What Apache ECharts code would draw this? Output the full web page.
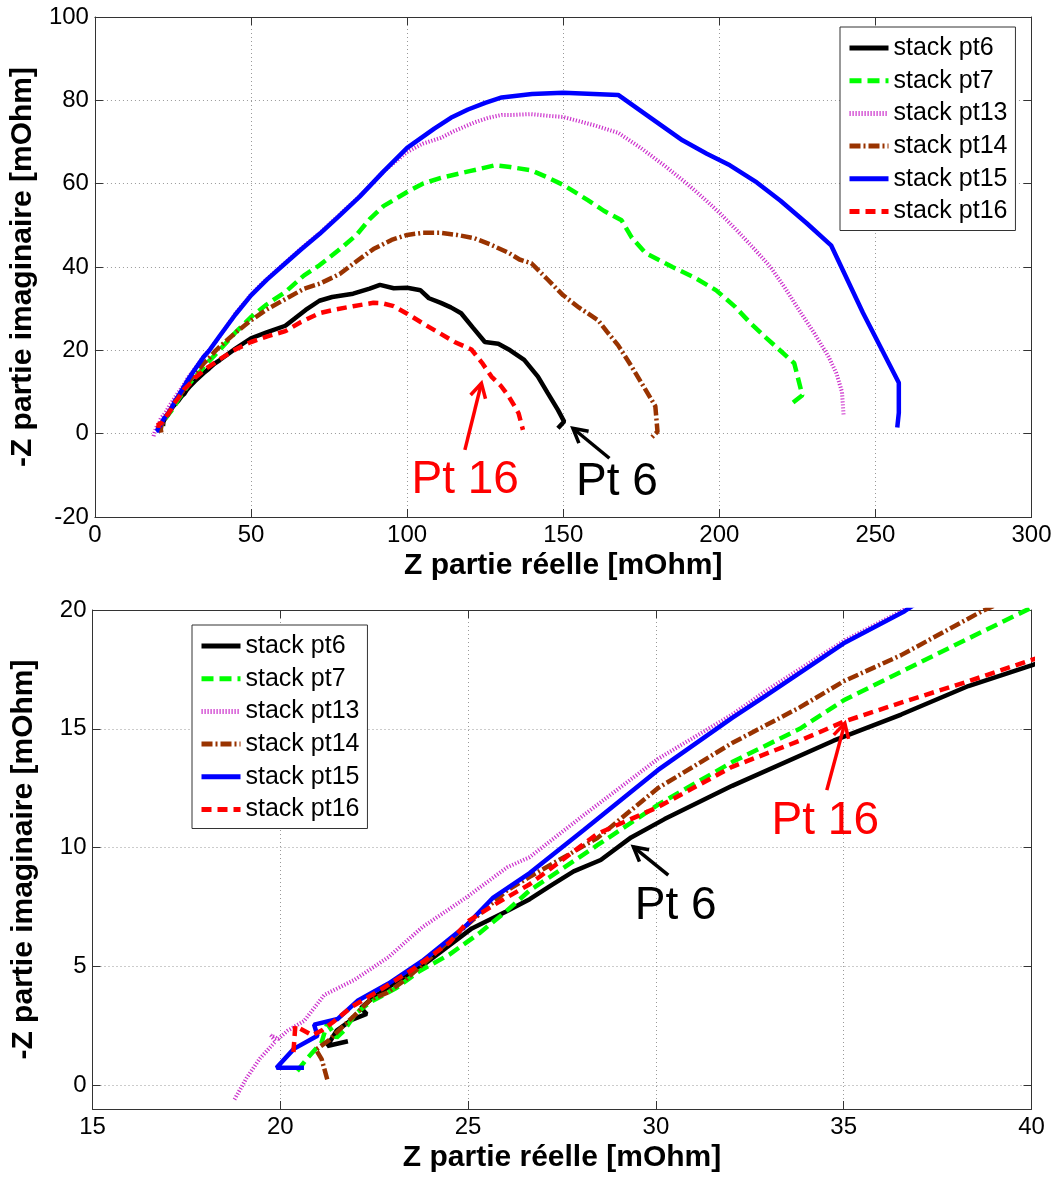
<!DOCTYPE html>
<html>
<head>
<meta charset="utf-8">
<script src="https://cdn.jsdelivr.net/npm/echarts@6/dist/echarts.min.js"></script>
<style>
html,body{margin:0;padding:0;background:#fff;}
#main{width:1059px;height:1177px;}
</style>
</head>
<body>
<div id="main"></div>
<script>
// ---------- data ----------
const seriesNames = ['stack pt6','stack pt7','stack pt13','stack pt14','stack pt15','stack pt16'];

const pt6 = [[21.8,1.85],[21.25,1.65],[21.5,2.3],[21.9,2.75],[22.3,3.0],[22.15,3.25],[22.4,3.6],[22.9,4.15],[23.8,5.05],[25.1,6.6],[26.0,7.3],[26.64,7.83],[27.2,8.4],[27.81,9.0],[28.53,9.48],[29.34,10.43],[30.23,11.2],[32.03,12.6],[34.73,14.5],[36.53,15.6],[38.32,16.8],[40,17.67],[45,20.4],[50,22.9],[55,24.3],[61,25.9],[67.5,29.7],[71.9,31.9],[76,32.8],[82.7,33.6],[88,34.8],[91.3,35.7],[95.7,34.9],[100,35],[104.3,34.4],[107,32.5],[110.8,31.4],[114,30.3],[117.3,28.9],[121,25.5],[124.9,22],[129.2,21.6],[133,20],[137.5,17.7],[141.9,13.7],[145,9.8],[148.3,5.7],[150.3,2.9],[148.3,1.3]];

const pt7 = [[20.45,0.6],[20.7,1.1],[21.1,1.8],[21.25,2.6],[21.5,2.0],[21.7,2.3],[22.0,3.0],[22.4,3.5],[23.1,4.1],[23.7,4.8],[24.5,5.5],[25.3,6.4],[26.0,7.3],[26.64,8.2],[28.44,10.1],[30.05,11.8],[32.03,13.6],[33.83,15.0],[35,16.2],[36.53,17.4],[38.32,18.8],[40,20.1],[45,24.3],[50,28],[55,31],[61,34],[67,38],[71.9,40.4],[78,44],[83.8,47.7],[88,51.5],[92.4,54.6],[100,58],[105,60],[110.8,61.4],[120,63],[128.1,64.4],[133,64],[139.8,63.2],[145,61.5],[150,59.7],[158,56],[163,53.5],[168.7,51.2],[172,47],[176.3,43.4],[185,40],[192,37.5],[199,34.4],[205,30.5],[210,26.5],[215,23],[219.6,19.9],[224,16.9],[226.6,9.2],[222.8,7.0]];

const pt13 = [[18.78,-0.6],[19.1,0.3],[19.46,1.13],[19.87,1.84],[19.75,2.1],[19.95,1.95],[20.2,2.3],[20.63,2.7],[21.17,3.8],[21.98,4.44],[22.88,5.39],[23.78,6.65],[24.95,7.9],[26.04,9.17],[26.64,9.6],[28.08,11.37],[30.05,13.73],[32.03,15.6],[32.93,16.6],[35,18.7],[36.53,19.95],[40,23.4],[45,28.8],[50,33.4],[55,37.1],[61,41.1],[66,44.4],[71.9,48.1],[78,52.3],[84.8,57],[88,59.5],[92.4,62.9],[100,67.6],[105,69.6],[110.8,71],[115,72.6],[121.6,74.7],[126,75.8],[130.3,76.5],[134,76.5],[139.5,76.7],[145,76.3],[150,76],[160,74],[167.6,72.2],[175,68.5],[183,64],[189.3,60.2],[195,56.5],[200.2,52.9],[206,48.5],[211,44.5],[216.4,40],[221,35],[226.2,28.9],[230.5,24],[234.9,18.6],[237.5,14.5],[239.3,10],[239.8,4.5]];

const pt14 = [[21.25,0.25],[21.1,1.1],[20.95,1.5],[21.3,1.9],[21.55,2.3],[21.95,2.9],[22.4,3.6],[22.85,3.9],[23.33,4.44],[24.23,5.7],[25.13,6.96],[26.04,8.2],[26.64,8.77],[28.44,10.4],[30.05,12.5],[32.03,14.4],[33.83,15.9],[35,17.0],[36.53,18.1],[38.68,19.95],[40,20.9],[45,24.2],[50,27.2],[55,29.8],[61,32.3],[67,34.8],[72,36],[78.4,38.3],[84,41.5],[89.2,44.3],[95,46.5],[100,47.7],[105,48.2],[110.8,48.2],[116,47.7],[121.6,46.9],[127,45.3],[132.5,43.4],[136,41.8],[139.8,40.9],[145,37],[150,33.2],[155,30.3],[161.2,27.2],[164,24.5],[167.6,21.2],[172,16],[176,11],[179.5,6.6],[180.2,0.5],[178.1,-1.1]];

const pt15 = [[20.63,0.74],[19.9,0.74],[20.36,1.53],[20.99,2.08],[20.9,2.55],[21.53,2.79],[22.07,3.57],[22.88,4.28],[23.78,5.23],[24.95,6.72],[25.67,7.9],[26.64,8.93],[28.08,10.74],[30.05,13.26],[32.03,15.46],[32.93,16.4],[35,18.6],[36.62,19.95],[40,23.5],[45,28.6],[50,33.2],[55,36.9],[61,40.9],[66,44.2],[71.9,47.9],[78,52.1],[84.8,56.9],[88,59.4],[92.4,62.9],[100,68.6],[108.7,73.2],[114,75.8],[119.5,77.8],[125,79.4],[130.3,80.7],[140,81.5],[150,81.8],[167.6,81.3],[178,75.8],[188.2,70.4],[196,67.2],[203.4,64.4],[212,60.3],[219.6,55.9],[228,50.5],[235.8,45.2],[246,29],[257.5,12.2],[257.5,5],[257,1.5]];

const pt16 = [[20.35,1.4],[20.4,2.5],[20.85,2.1],[21.1,2.3],[21.4,2.65],[21.9,3.3],[22.6,3.95],[23.5,4.85],[24.5,6.0],[25.0,6.9],[25.7,7.6],[26.64,8.46],[28.44,10.58],[30.05,11.7],[32.03,13.4],[33.83,14.5],[35,15.3],[36.53,16.1],[38.32,17.0],[40,17.9],[45,20.2],[50,22],[55,23.3],[61,24.6],[66,26.8],[71.9,28.9],[77,29.8],[82.7,30.6],[89.2,31.4],[92,31.3],[95.7,30.6],[100,28.8],[105.4,26.3],[110,24.3],[115.2,22],[120.6,20.2],[124,17],[127,13.7],[130,11.5],[132.5,9],[134.5,6.5],[135.7,4.9],[137.1,0.9]];

// axis ranges / ticks
const topX = {min:0, max:300, interval:50};
const topY = {min:-20, max:100, interval:20};
const botX = {min:15, max:40, interval:5};
const botY = {min:-1, max:20, splitNumber:4};

const xTitle = 'Z partie réelle [mOhm]';
const yTitle = '-Z partie imaginaire [mOhm]';

// annotations: [grid, text, color, text anchor (left, baseline), arrow tail, arrow tip]
const annotations = [
  [0,'Pt 16','#ff0000',[101.4,-15.1],[118.5,-3.9],[123.8,12.1]],
  [0,'Pt 6','#000000',[154.1,-15.5],[164.8,-5.9],[153.1,1.3]],
  [1,'Pt 16','#ff0000',[33.08,10.43],[34.55,12.42],[35.03,15.23]],
  [1,'Pt 6','#000000',[29.44,6.88],[30.33,8.84],[29.4,10.03]]
];

// ---------- styles ----------
const allData = [pt6, pt7, pt13, pt14, pt15, pt16];
const styles = [
  {color:'#000000', width:4.5, type:'solid'},
  {color:'#00ff00', width:4.5, type:[12,6]},
  {color:'#cc33cc', width:4, type:[1.2,1.8]},
  {color:'#993300', width:4.5, type:[11,3,2,3]},
  {color:'#0000ff', width:4.5, type:'solid'},
  {color:'#ff0000', width:4.5, type:[10,6]}
];

const FONT = 'Liberation Sans';
const gridLineStyle = {color:'#999', width:1, type:[1,3]};
const axisLineStyle = {color:'#333', width:1};

function mainX(gi, r){
  return Object.assign({
    type:'value', gridIndex:gi, position:'bottom',
    name:xTitle, nameLocation:'middle', nameGap:34,
    nameTextStyle:{fontFamily:FONT, fontSize:30, fontWeight:'bold', color:'#000'},
    axisLine:{show:true, onZero:false, lineStyle:axisLineStyle},
    axisTick:{show:true, inside:true, length:8, lineStyle:axisLineStyle},
    axisLabel:{fontFamily:FONT, fontSize:24, color:'#000', margin:6},
    splitLine:{show:true, lineStyle:gridLineStyle}
  }, r);
}
function mirrorX(gi, r){
  return Object.assign({
    type:'value', gridIndex:gi, position:'top',
    axisLine:{show:true, onZero:false, lineStyle:axisLineStyle},
    axisTick:{show:true, inside:true, length:8, lineStyle:axisLineStyle},
    axisLabel:{show:false}, splitLine:{show:false}
  }, r);
}
function mainY(gi, r, extraLabel){
  return Object.assign({
    type:'value', gridIndex:gi, position:'left',
    name:yTitle, nameLocation:'middle', nameGap:54,
    nameTextStyle:{fontFamily:FONT, fontSize:30, fontWeight:'bold', color:'#000'},
    axisLine:{show:true, onZero:false, lineStyle:axisLineStyle},
    axisTick:{show:true, inside:true, length:8, lineStyle:axisLineStyle},
    axisLabel:Object.assign({fontFamily:FONT, fontSize:24, color:'#000', margin:6}, extraLabel||{}),
    splitLine:{show:true, lineStyle:gridLineStyle}
  }, r);
}
function mirrorY(gi, r){
  return Object.assign({
    type:'value', gridIndex:gi, position:'right',
    axisLine:{show:true, onZero:false, lineStyle:axisLineStyle},
    axisTick:{show:true, inside:true, length:8, lineStyle:axisLineStyle},
    axisLabel:{show:false}, splitLine:{show:false}
  }, r);
}

const series = [];
[0,1].forEach(function(g){
  allData.forEach(function(d, i){
    series.push({
      type:'line', name:seriesNames[i], data:d,
      xAxisIndex: g*2, yAxisIndex: g*2,
      showSymbol:false, symbol:'none', smooth:false, clip:true,
      animation:false,
      lineStyle:{color:styles[i].color, width:styles[i].width, type:styles[i].type},
      itemStyle:{color:styles[i].color, opacity:0},
      emphasis:{disabled:true}
    });
  });
});

function legend(left, top){
  return {
    data:seriesNames, orient:'vertical', left:left, top:top,
    backgroundColor:'#fff', borderColor:'#333', borderWidth:1,
    padding:[8,8,6,7], itemWidth:39, itemHeight:14, itemGap:6.7,
    itemStyle:{opacity:0, borderWidth:0},
    lineStyle:{width:5, opacity:1},
    textStyle:{fontFamily:FONT, fontSize:25, color:'#000', lineHeight:26},
    selectedMode:false
  };
}

const option = {
  backgroundColor:'#fff',
  animation:false,
  grid:[
    {left:92.5, top:17, width:939, height:500},
    {left:92.5, top:610, width:939, height:499}
  ],
  xAxis:[ mainX(0, topX), mirrorX(0, topX), mainX(1, botX), mirrorX(1, botX) ],
  yAxis:[ mainY(0, topY), mirrorY(0, topY), mainY(1, botY, {showMinLabel:false}), mirrorY(1, botY) ],
  legend:[ legend(840, 27), legend(192, 625) ],
  series:series
};

const chart = echarts.init(document.getElementById('main'), null, {renderer:'canvas'});
chart.setOption(option);

// annotations drawn in data coordinates converted to pixels
const graphics = [];
annotations.forEach(function(a){
  const g = a[0], fs = 46;
  const tp = chart.convertToPixel({gridIndex:g}, a[3]);
  const p0 = chart.convertToPixel({gridIndex:g}, a[4]);
  const p1 = chart.convertToPixel({gridIndex:g}, a[5]);
  graphics.push({
    type:'text', x:tp[0], y:tp[1] - 0.3465*fs, z:100,
    style:{text:a[1], fill:a[2], font: fs + 'px "' + FONT + '"', textAlign:'left', textVerticalAlign:'middle', verticalAlign:'middle'}
  });
  graphics.push({
    type:'line', z:100,
    shape:{x1:p0[0], y1:p0[1], x2:p1[0], y2:p1[1]},
    style:{stroke:a[2], lineWidth:3.5}
  });
  const ang = Math.atan2(p0[1]-p1[1], p0[0]-p1[0]);
  const L = 16, h = 0.5;
  graphics.push({
    type:'polyline', z:100,
    shape:{points:[[p1[0]+L*Math.cos(ang+h), p1[1]+L*Math.sin(ang+h)], [p1[0], p1[1]], [p1[0]+L*Math.cos(ang-h), p1[1]+L*Math.sin(ang-h)]]},
    style:{stroke:a[2], lineWidth:3.5, fill:null}
  });
});
chart.setOption({graphic:graphics});
</script>
</body>
</html>
